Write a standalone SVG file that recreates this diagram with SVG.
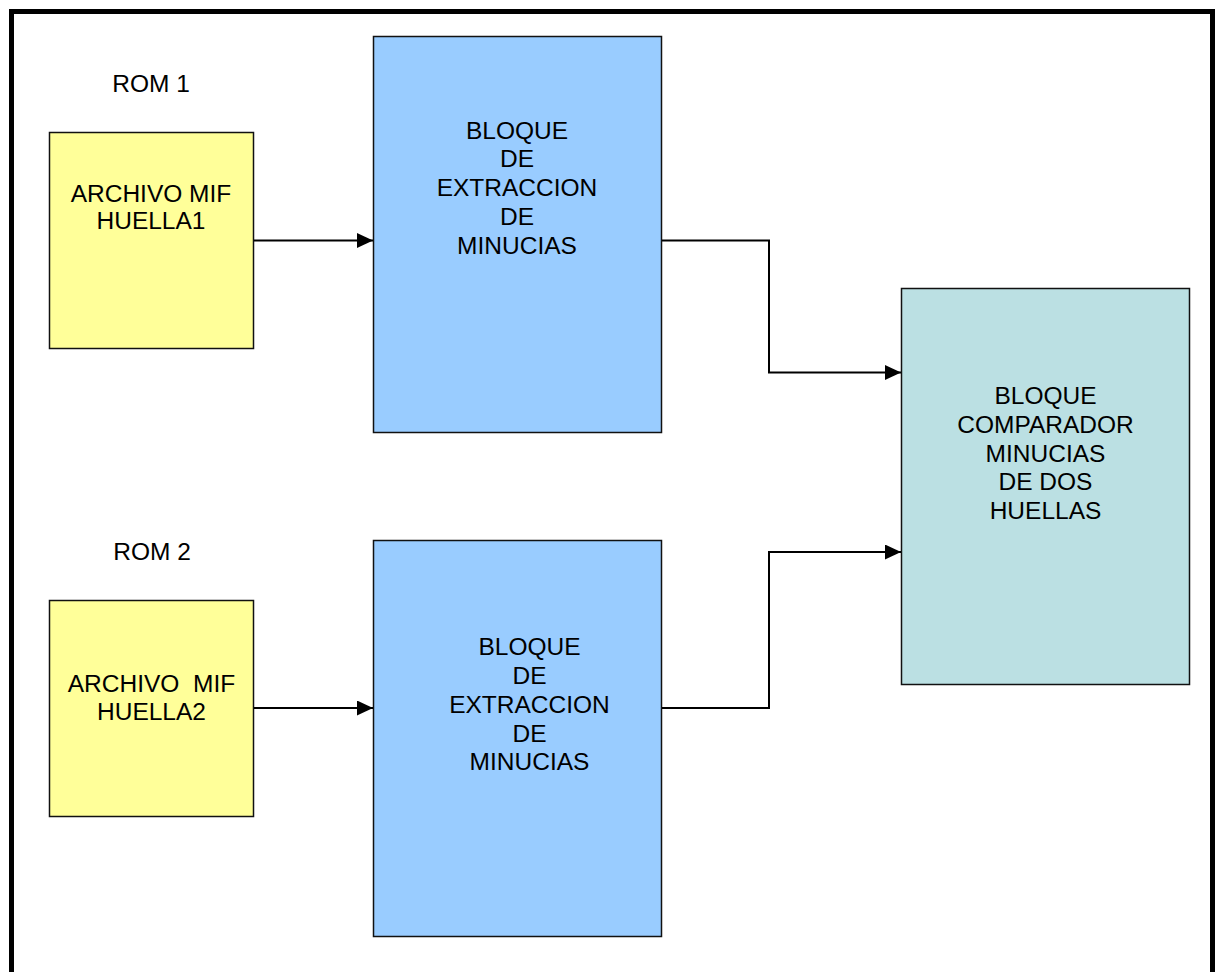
<svg xmlns="http://www.w3.org/2000/svg" width="1219" height="972" viewBox="0 0 1219 972">
<style>
text{font-family:"Liberation Sans",Arial,sans-serif;font-size:24.5px;fill:#000;text-anchor:middle}
.box{stroke:#111;stroke-width:1.5}
.conn{fill:none;stroke:#000;stroke-width:2}
</style>
<defs>
<marker id="arr" markerWidth="16" markerHeight="15" refX="16" refY="7.5" orient="auto" markerUnits="userSpaceOnUse">
<path d="M0,0 L16,7.5 L0,15 Z" fill="#000"/>
</marker>
</defs>
<rect x="0" y="0" width="1219" height="972" fill="#fff"/>
<rect id="frame" x="11.5" y="11.5" width="1201" height="1000" fill="none" stroke="#000" stroke-width="5"/>
<g id="rom1">
<text x="151" y="92">ROM 1</text>
</g>
<g id="rom2">
<text x="152" y="560">ROM 2</text>
</g>
<g id="mif1">
<rect class="box" x="49.5" y="132.5" width="204" height="216" fill="#FFFF99"/>
<text x="151" y="201.5">ARCHIVO MIF</text>
<text x="151" y="229">HUELLA1</text>
</g>
<g id="mif2">
<rect class="box" x="49.5" y="600.5" width="204" height="216" fill="#FFFF99"/>
<text x="151.5" y="691.5" xml:space="preserve">ARCHIVO  MIF</text>
<text x="151.5" y="720">HUELLA2</text>
</g>
<g id="ext1">
<rect class="box" x="373.5" y="36.5" width="288" height="396" fill="#99CCFF"/>
<text x="517" y="138.5">BLOQUE</text>
<text x="517" y="167">DE</text>
<text x="517" y="196">EXTRACCION</text>
<text x="517" y="224.5">DE</text>
<text x="517" y="254">MINUCIAS</text>
</g>
<g id="ext2">
<rect class="box" x="373.5" y="540.5" width="288" height="396" fill="#99CCFF"/>
<text x="529.5" y="655">BLOQUE</text>
<text x="529.5" y="684">DE</text>
<text x="529.5" y="713">EXTRACCION</text>
<text x="529.5" y="741.5">DE</text>
<text x="529.5" y="770">MINUCIAS</text>
</g>
<g id="comp">
<rect class="box" x="901.5" y="288.5" width="288" height="396" fill="#BBE0E3"/>
<text x="1045.5" y="403.5">BLOQUE</text>
<text x="1045.5" y="433">COMPARADOR</text>
<text x="1045.5" y="461.5">MINUCIAS</text>
<text x="1045.5" y="490">DE DOS</text>
<text x="1045.5" y="518.5">HUELLAS</text>
</g>
<g id="connectors">
<path class="conn" d="M254,240.5 H373" marker-end="url(#arr)"/>
<path class="conn" d="M254,708 H373" marker-end="url(#arr)"/>
<path class="conn" d="M662,240.5 H769 V372.5 H901" marker-end="url(#arr)"/>
<path class="conn" d="M662,708 H769 V552 H901" marker-end="url(#arr)"/>
</g>
</svg>
